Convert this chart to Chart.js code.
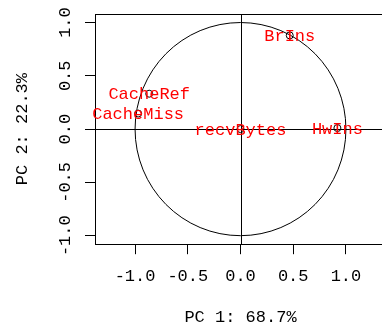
<!DOCTYPE html>
<html>
<head>
<meta charset="utf-8">
<script src="https://cdn.jsdelivr.net/npm/chart.js@4/dist/chart.umd.min.js"></script>
<style>
  html, body { margin: 0; padding: 0; background: #fff; overflow: hidden; }
  #wrap { position: relative; width: 400px; height: 328px; }
</style>
</head>
<body>
<div id="wrap"><canvas id="pca"></canvas></div>
<script>
  // variable loadings on the first two components
  const varNames = ["BrIns", "CacheRef", "CacheMiss", "recvBytes", "HwIns"];
  const pc1 = [0.467, -0.866, -0.971, 0.0, 0.919];
  const pc2 = [0.879, 0.332, 0.146, 0.0, 0.01];

  const xTicks = [-1, -0.5, 0, 0.5, 1];
  const yTicks = [-1, -0.5, 0, 0.5, 1];
  const tickLabels = ["-1.0", "-0.5", "0.0", "0.5", "1.0"];

  const xTitle = "PC 1: 68.7%";
  const yTitle = "PC 2: 22.3%";

  const FONT = "Liberation Mono";
  const FS = 17;

  // box, unit circle, zero lines, rotated y labels and variable names
  const circlePlot = {
    id: "circlePlot",
    beforeDatasetsDraw(chart) {
      const { ctx, chartArea: a, scales: { x, y } } = chart;
      ctx.save();
      ctx.strokeStyle = "#000";
      ctx.lineWidth = 1;
      ctx.strokeRect(Math.round(a.left) + 0.5, Math.round(a.top) + 0.5,
        Math.round(a.right - a.left), Math.round(a.bottom - a.top));
      const x0 = Math.round(x.getPixelForValue(0)) + 0.5;
      const y0 = Math.round(y.getPixelForValue(0)) + 0.5;
      ctx.beginPath();
      ctx.moveTo(a.left, y0); ctx.lineTo(a.right, y0);
      ctx.moveTo(x0, a.top); ctx.lineTo(x0, a.bottom);
      ctx.stroke();
      const rx = x.getPixelForValue(1) - x.getPixelForValue(0);
      const ry = y.getPixelForValue(0) - y.getPixelForValue(1);
      ctx.beginPath();
      ctx.ellipse(x.getPixelForValue(0), y.getPixelForValue(0), rx, ry, 0, 0, Math.PI * 2);
      ctx.stroke();
      ctx.restore();
    },
    afterDatasetsDraw(chart) {
      const { ctx, scales: { x, y } } = chart;
      ctx.save();
      ctx.font = FS + "px '" + FONT + "'";
      ctx.textAlign = "center";
      ctx.textBaseline = "middle";
      ctx.fillStyle = "#ff0000";
      varNames.forEach((n, i) => {
        ctx.fillText(n, x.getPixelForValue(pc1[i]), y.getPixelForValue(pc2[i]) + 1);
      });
      ctx.fillStyle = "#000";
      yTicks.forEach((v, i) => {
        ctx.save();
        ctx.translate(65, y.getPixelForValue(v));
        ctx.rotate(-Math.PI / 2);
        ctx.fillText(tickLabels[i], 0, 0);
        ctx.restore();
      });
      ctx.restore();
    }
  };

  new Chart(document.getElementById("pca"), {
    type: "scatter",
    data: {
      datasets: [{
        data: pc1.map((v, i) => ({ x: v, y: pc2[i] })),
        pointStyle: "circle",
        pointRadius: 3.5,
        pointBorderWidth: 1,
        pointBorderColor: "#000",
        pointBackgroundColor: "rgba(0,0,0,0)"
      }]
    },
    options: {
      responsive: true,
      maintainAspectRatio: false,
      animation: false,
      events: [],
      layout: { padding: { top: 14, right: 14, left: 0, bottom: 0 } },
      plugins: { legend: { display: false }, tooltip: { enabled: false } },
      scales: {
        x: {
          type: "linear", min: -1.38, max: 1.38,
          afterBuildTicks: s => { s.ticks = xTicks.map(v => ({ value: v })); },
          border: { display: false },
          grid: { drawOnChartArea: false, drawTicks: true, tickLength: 10, color: "#000" },
          ticks: {
            color: "#000", padding: 11.8, maxRotation: 0,
            font: { family: FONT, size: FS },
            callback: (v) => tickLabels[xTicks.indexOf(v)]
          },
          title: {
            display: true, text: xTitle, color: "#000",
            font: { family: FONT, size: FS },
            padding: { top: 8.6, bottom: 0.8 }
          }
        },
        y: {
          type: "linear", min: -1.08, max: 1.08,
          afterBuildTicks: s => { s.ticks = yTicks.map(v => ({ value: v })); },
          border: { display: false },
          grid: { drawOnChartArea: false, drawTicks: true, tickLength: 10, color: "#000" },
          ticks: { display: false },
          title: {
            display: true, text: yTitle, color: "#000",
            font: { family: FONT, size: FS },
            padding: { top: 12.4, bottom: 52.2 }
          }
        }
      }
    },
    plugins: [circlePlot]
  });
</script>
</body>
</html>
